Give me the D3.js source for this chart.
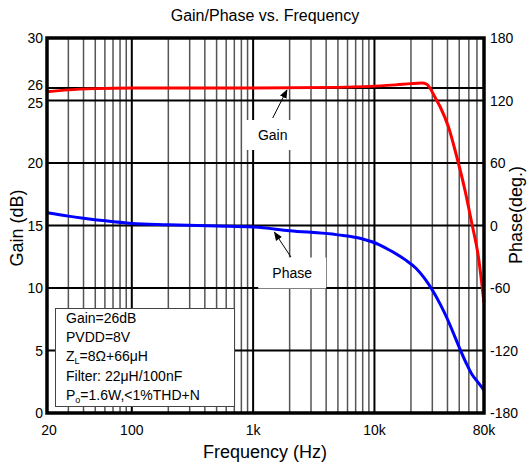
<!DOCTYPE html>
<html>
<head>
<meta charset="utf-8">
<script src="https://cdn.jsdelivr.net/npm/d3@7"></script>
<style>
  html, body { margin: 0; padding: 0; background: #fff; }
  svg text { font-family: "Liberation Sans", Arial, sans-serif; fill: #000; }
</style>
</head>
<body>
<svg id="chart" width="529" height="469"></svg>
<script>
// ---------- data ----------
const gainFreq  = [20, 30, 50, 100, 1000, 5000, 10000, 15000, 20000, 24600, 27000, 28700, 31000, 34800, 40700, 47700, 55800, 63400, 71900, 80000];
const gainDb    = [25.7, 25.85, 25.95, 26.0, 26.0, 26.05, 26.15, 26.25, 26.35, 26.4, 26.3, 26.0, 25.4, 24.5, 22.9, 20.5, 17.8, 15.2, 12.5, 8.8];
const phaseFreq = [20, 30, 40, 60, 100, 200, 500, 1000, 2000, 5000, 8000, 11000, 14000, 18000, 22000, 26000, 30000, 35000, 40000, 45000, 50000, 57000, 63000, 72000, 80000];
const phaseDeg  = [12.3, 9, 7, 4.5, 2, 0.8, -0.5, -1.5, -5, -9, -13, -18.5, -25, -33, -41, -51, -62, -76, -90, -104, -117, -132, -142, -151, -158];

const xTickVals   = [20, 100, 1000, 10000, 80000];
const xTickLabels = ["20", "100", "1k", "10k", "80k"];
const gainTicks   = [0, 5, 10, 15, 20, 25, 26, 30];
const phaseTicks  = [-180, -120, -60, 0, 60, 120, 180];
const legendLines = ["Gain=26dB", "PVDD=8V", "Z|L|=8Ω+66μH", "Filter: 22μH/100nF", "P|o|=1.6W,<1%THD+N"];

// ---------- layout ----------
const svg = d3.select("#chart");
const L = 47, R = 484, T = 38, B = 413;

const x = d3.scaleLog().domain([20, 80000]).range([L, R]);
const yG = d3.scaleLinear().domain([0, 30]).range([B, T]);
const yP = d3.scaleLinear().domain([-180, 180]).range([B, T]);

// minor / major vertical grid
const minor = [];
[10, 100, 1000, 10000].forEach(d => { for (let k = 2; k <= 9; k++) { const v = d * k; if (v > 20 && v < 80000) minor.push(v); } });
const major = [100, 1000, 10000];

const grid = svg.append("g");
grid.selectAll("line.minor").data(minor).enter().append("line")
  .attr("x1", d => x(d)).attr("x2", d => x(d)).attr("y1", T).attr("y2", B)
  .attr("stroke", "#555").attr("stroke-width", 1.5);
grid.selectAll("line.major").data(major).enter().append("line")
  .attr("x1", d => x(d)).attr("x2", d => x(d)).attr("y1", T).attr("y2", B)
  .attr("stroke", "#000").attr("stroke-width", 2);
grid.selectAll("line.h").data([5, 10, 15, 20, 25, 26]).enter().append("line")
  .attr("x1", L).attr("x2", R).attr("y1", d => yG(d)).attr("y2", d => yG(d))
  .attr("stroke", "#000").attr("stroke-width", 2);

// annotation boxes (white) over grid
function labelBox(cx, cy, w, h) {
  svg.append("rect").attr("x", cx - w / 2).attr("y", cy - h / 2).attr("width", w).attr("height", h).attr("fill", "#fff");
}
const gainLblX = x(1450), gainLblY = 135;
const phaseLblX = x(2100), phaseLblY = 273;
labelBox(gainLblX - 5, gainLblY, 48, 30);
labelBox(phaseLblX, phaseLblY, 68, 31);

// curves
const line = d3.line().curve(d3.curveMonotoneX);
svg.append("path")
  .attr("d", line(phaseFreq.map((f, i) => [x(f), yP(phaseDeg[i])])))
  .attr("fill", "none").attr("stroke", "#0000ff").attr("stroke-width", 3);
svg.append("path")
  .attr("d", line(gainFreq.map((f, i) => [x(f), yG(gainDb[i])])))
  .attr("fill", "none").attr("stroke", "#ff0000").attr("stroke-width", 3);

// border
svg.append("rect").attr("x", L).attr("y", T).attr("width", R - L).attr("height", B - T)
  .attr("fill", "none").attr("stroke", "#000").attr("stroke-width", 3.5);

// annotations text & arrows
svg.append("defs").append("marker").attr("id", "ah").attr("viewBox", "0 0 10 10")
  .attr("refX", 9).attr("refY", 5).attr("markerWidth", 9).attr("markerHeight", 9)
  .attr("markerUnits", "userSpaceOnUse").attr("orient", "auto")
  .append("path").attr("d", "M0,1 L10,5 L0,9 Z").attr("fill", "#000");

svg.append("text").attr("x", gainLblX).attr("y", gainLblY + 5).attr("text-anchor", "middle")
  .attr("font-size", 14).text("Gain");
svg.append("line").attr("x1", gainLblX).attr("y1", 118).attr("x2", x(1900)).attr("y2", yG(26) + 2)
  .attr("stroke", "#000").attr("stroke-width", 1).attr("marker-end", "url(#ah)");
svg.append("text").attr("x", phaseLblX).attr("y", phaseLblY + 5).attr("text-anchor", "middle")
  .attr("font-size", 14).text("Phase");
svg.append("line").attr("x1", x(2050)).attr("y1", 257).attr("x2", x(1500)).attr("y2", yP(-4.5) + 2)
  .attr("stroke", "#000").attr("stroke-width", 1).attr("marker-end", "url(#ah)");

// legend box
const lg = svg.append("g");
lg.append("rect").attr("x", 55.5).attr("y", 308.5).attr("width", 179).attr("height", 98)
  .attr("fill", "#fff").attr("stroke", "#444").attr("stroke-width", 1);
legendLines.forEach((s, i) => {
  const t = lg.append("text").attr("x", 66).attr("y", 323 + i * 19.2).attr("font-size", 14);
  const parts = s.split("|");
  parts.forEach((p, j) => {
    if (j % 2 === 1) {
      t.append("tspan").attr("font-size", 9).attr("dy", 3).text(p);
    } else {
      const ts = t.append("tspan").text(p);
      if (j > 0) ts.attr("dy", -3);
    }
  });
});

// tick labels
const fs = 14;
svg.selectAll("text.yl").data(gainTicks).enter().append("text")
  .attr("x", 43).attr("y", d => yG(d) + (d === 26 ? 2 : d === 25 ? 7 : 5))
  .attr("text-anchor", "end").attr("font-size", fs).text(d => d);
svg.selectAll("text.yr").data(phaseTicks).enter().append("text")
  .attr("x", 490).attr("y", d => yP(d) + 5)
  .attr("text-anchor", "start").attr("font-size", fs).text(d => d);
svg.selectAll("text.xl").data(xTickVals).enter().append("text")
  .attr("x", (d, i) => x(d) + (i === 0 ? 2 : 0)).attr("y", 435)
  .attr("text-anchor", "middle").attr("font-size", fs).text((d, i) => xTickLabels[i]);

// titles
svg.append("text").attr("x", 265).attr("y", 21).attr("text-anchor", "middle")
  .attr("font-size", 16).text("Gain/Phase vs. Frequency");
svg.append("text").attr("x", 265).attr("y", 458).attr("text-anchor", "middle")
  .attr("font-size", 18).text("Frequency (Hz)");
svg.append("text").attr("transform", "translate(23,228) rotate(-90)").attr("text-anchor", "middle")
  .attr("font-size", 18).text("Gain (dB)");
svg.append("text").attr("transform", "translate(522,215) rotate(-90)").attr("text-anchor", "middle")
  .attr("font-size", 18).text("Phase(deg.)");
</script>
</body>
</html>
